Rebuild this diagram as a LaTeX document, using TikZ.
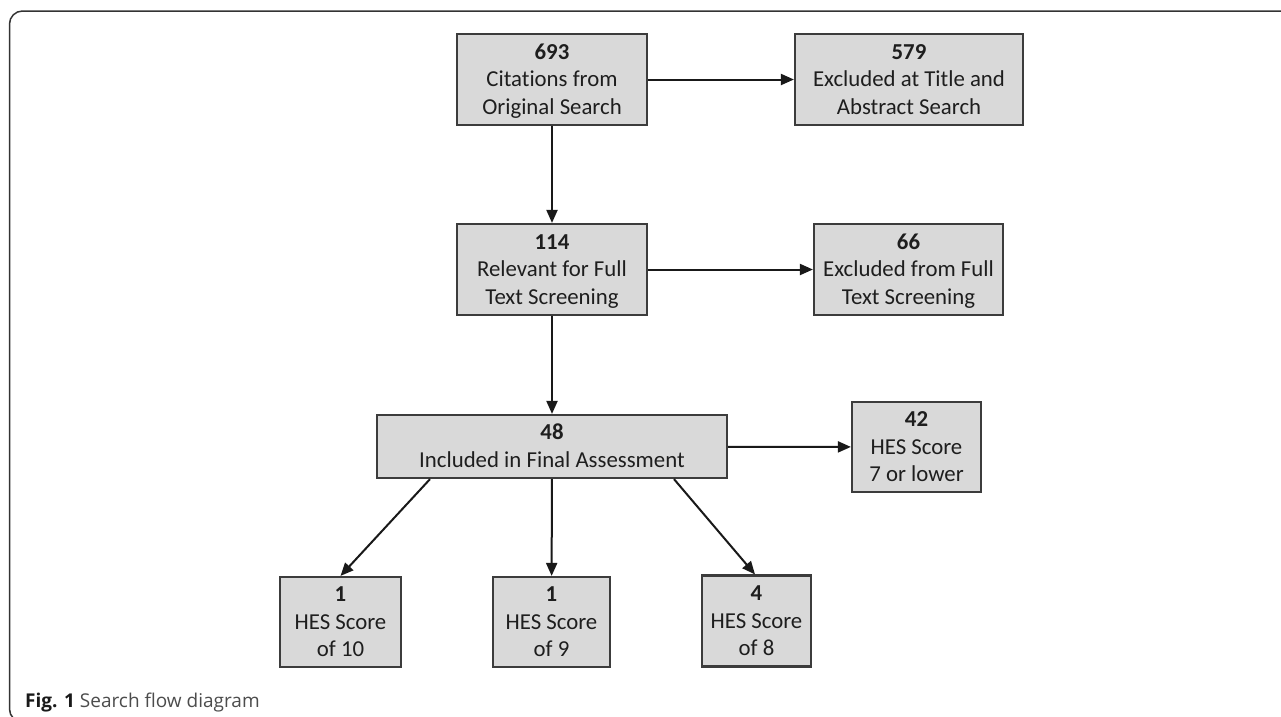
\documentclass[tikz,border=0pt]{standalone}
\usepackage{fontspec}
\setmainfont{Carlito}[Ligatures=NoCommon]
\newfontfamily\capfont{Open Sans}
\usetikzlibrary{arrows.meta}
\definecolor{boxfill}{HTML}{D9D9D9}
\definecolor{boxline}{HTML}{3C3C3C}
\definecolor{txt}{HTML}{1E1E1E}
\definecolor{framec}{HTML}{333333}
\newcommand\fbtop{\rule{0pt}{20pt}}
\newcommand\fbbot{\rule[-5.6pt]{0pt}{0pt}}
\begin{document}
\begin{tikzpicture}[x=1pt,y=-1pt,
  flowbox/.style={draw=boxline, line width=2.2pt, fill=boxfill, inner sep=0pt, align=center, text=txt, font=\fontsize{22.8}{27.5}\selectfont},
  flowarrow/.style={draw=black!90, line width=2pt, -{Triangle[length=13pt,width=11pt]}}]
\useasboundingbox (0,0) rectangle (1281,716);
\draw[line width=1.5pt, draw=framec, rounded corners=13pt] (60,722) -- (9.5,722) -- (9.5,11) -- (1320,11);
% boxes
\node[flowbox, minimum width=190pt, minimum height=91pt] (n693) at (552,79.5) {\fbtop\textbf{693}\\Citations from\\Original Search\fbbot};
\node[flowbox, minimum width=228pt, minimum height=91pt] (n579) at (909,79.5) {\fbtop\textbf{579}\\Excluded at Title and\\Abstract Search\fbbot};
\node[flowbox, minimum width=190pt, minimum height=91pt] (n114) at (552,269.5) {\fbtop\textbf{114}\\Relevant for Full\\Text Screening\fbbot};
\node[flowbox, minimum width=189pt, minimum height=91pt] (n66) at (908.5,269.5) {\fbtop\textbf{66}\\Excluded from Full\\Text Screening\fbbot};
\node[flowbox, minimum width=350pt, minimum height=63pt] (n48) at (552,446.5) {\fbtop\textbf{48}\\Included in Final Assessment\fbbot};
\node[flowbox, minimum width=129pt, minimum height=90pt] (n42) at (916.5,447) {\fbtop\textbf{42}\\HES Score\\7 or lower\fbbot};
\node[flowbox, minimum width=121pt, minimum height=90pt] (n10) at (340.5,622) {\fbtop\textbf{1}\\HES Score\\of 10\fbbot};
\node[flowbox, minimum width=117pt, minimum height=90pt] (n9) at (551.5,622) {\fbtop\textbf{1}\\HES Score\\of 9\fbbot};
\node[flowbox, minimum width=109pt, minimum height=91pt] (n8) at (756.5,621) {\fbtop\textbf{4}\\HES Score\\of 8\fbbot};
% connectors
\draw[flowarrow] (n693) -- (n579);
\draw[flowarrow] (n693) -- (n114);
\draw[flowarrow] (n114) -- (n66);
\draw[flowarrow] (n114) -- (n48);
\draw[flowarrow] (n48) -- (n42);
\draw[flowarrow] ([xshift=-122pt]n48.south) -- (n10.north);
\draw[flowarrow] (n48) -- (n9);
\draw[flowarrow] ([xshift=122pt]n48.south) -- ([xshift=-1.5pt]n8.north);
% caption
\node[anchor=base west, inner sep=0pt, font=\capfont\fontsize{19}{22}\selectfont, text=black!70] (cap) at (25,707) {\textcolor{black!90}{\textbf{Fig. 1}} Search flow diagram};
\end{tikzpicture}
\end{document}
